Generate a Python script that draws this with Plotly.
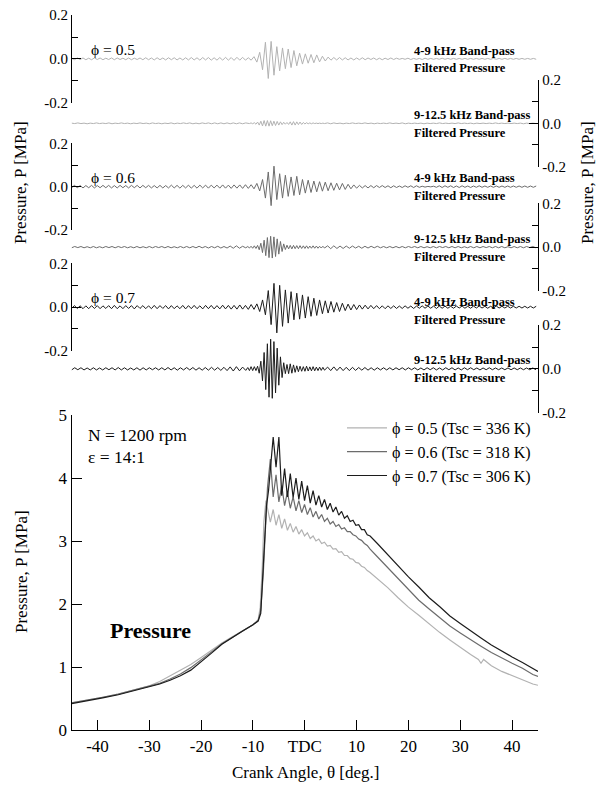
import numpy as np
import plotly.graph_objects as go

W, H = 606, 785
def fx(x): return x / W
def fy(y): return 1 - y / H

FONT = "Liberation Serif"
C05, C06, C07 = "#b2b2b2", "#6c6c6c", "#1c1c1c"
PHI = "\u03d5"

# ---------------- main pressure traces [MPa] vs crank angle [deg] ----------------
pre_deg = [-45, -42, -39, -36, -33, -30, -28, -26, -24, -22, -20, -18, -16, -14, -12, -10, -9]
p05_pre = [0.43, 0.47, 0.52, 0.57, 0.63, 0.70, 0.77, 0.86, 0.95, 1.04, 1.15, 1.27, 1.38, 1.48, 1.57, 1.67, 1.75]
p06_pre = [0.43, 0.47, 0.52, 0.57, 0.63, 0.69, 0.74, 0.81, 0.89, 0.99, 1.11, 1.24, 1.37, 1.47, 1.57, 1.67, 1.74]
p07_pre = [0.42, 0.46, 0.51, 0.56, 0.62, 0.68, 0.73, 0.79, 0.86, 0.95, 1.08, 1.22, 1.36, 1.47, 1.57, 1.67, 1.73]

rise05_deg = [-8.6, -8.2, -7.9, -7.5]
rise05 = [1.95, 2.6, 3.3, 3.64]
rise06_deg = [-8.5, -8.0, -7.6, -7.2]
rise06 = [1.9, 2.5, 3.3, 3.85]
rise07_deg = [-8.5, -8.2, -7.8, -7.4, -7.0]
rise07 = [1.85, 2.37, 3.1, 3.55, 3.8]

# combustion-oscillation region, sampled every 0.55 deg from -6.65 deg
p05_osc = [3.3, 3.5, 3.25, 3.42, 3.2, 3.35, 3.17, 3.28, 3.14, 3.23,
           3.11, 3.18, 3.08, 3.13, 3.04, 3.08, 3.0, 3.03, 2.96, 2.98,
           2.92, 2.93, 2.87, 2.88, 2.82, 2.83, 2.77, 2.77, 2.72, 2.71,
           2.66, 2.65, 2.6, 2.58, 2.53, 2.5]
p06_osc = [4.3, 3.7, 4.05, 3.62, 3.88, 3.56, 3.78, 3.52, 3.7, 3.48,
           3.64, 3.45, 3.58, 3.42, 3.53, 3.38, 3.47, 3.35, 3.42, 3.31,
           3.36, 3.27, 3.31, 3.23, 3.26, 3.19, 3.21, 3.15, 3.15, 3.1,
           3.08, 3.03, 3.01, 2.96, 2.93, 2.87]
p07_osc = [4.1, 4.65, 4.17, 4.65, 3.72, 4.15, 3.7, 4.07, 3.69, 4.0,
           3.66, 3.95, 3.64, 3.88, 3.6, 3.8, 3.57, 3.72, 3.54, 3.66,
           3.5, 3.6, 3.46, 3.54, 3.41, 3.47, 3.36, 3.4, 3.31, 3.33,
           3.25, 3.26, 3.18, 3.18, 3.1, 3.08]
osc_deg = np.round(-6.65 + 0.55 * np.arange(len(p07_osc)), 3)

post_deg = [14, 16, 18, 20, 22, 24, 26, 28, 30, 32, 34, 36, 38, 40, 42, 44, 45]
p06_post = [2.75, 2.58, 2.4, 2.23, 2.06, 1.92, 1.78, 1.65, 1.54, 1.43, 1.33, 1.23, 1.14, 1.06, 0.98, 0.88, 0.85]
p07_post = [2.96, 2.78, 2.6, 2.43, 2.27, 2.1, 1.96, 1.81, 1.69, 1.57, 1.46, 1.35, 1.25, 1.16, 1.07, 0.97, 0.93]
post05_deg = [14, 16, 18, 20, 22, 24, 26, 28, 30, 32, 33.5, 34, 34.5, 36, 38, 40, 42, 44, 45]
p05_post = [2.4, 2.26, 2.1, 1.95, 1.82, 1.68, 1.55, 1.43, 1.31, 1.2, 1.12, 1.06, 1.12, 1.02, 0.93, 0.86, 0.79, 0.73, 0.71]

legend_names = [PHI + " = 0.5 (Tsc = 336 K)", PHI + " = 0.6 (Tsc = 318 K)", PHI + " = 0.7 (Tsc = 306 K)"]

# ---------------- 4-9 kHz band-pass filtered pressure [MPa], every 0.55 deg from -45 ----------------
f49_05 = [0.003, -0.004, 0.004, -0.003, 0.004, -0.004, 0.003, -0.004, 0.004, -0.003,
          0.004, -0.004, 0.003, -0.003, 0.004, -0.004, 0.004, -0.003, 0.003, -0.004,
          0.004, -0.004, 0.003, -0.003, 0.004, -0.004, 0.005, -0.004, 0.004, -0.005,
          0.005, -0.004, 0.004, -0.005, 0.005, -0.004, 0.005, -0.005, 0.004, -0.005,
          0.005, -0.005, 0.006, -0.005, 0.005, -0.006, 0.006, -0.005, 0.006, -0.006,
          0.005, -0.006, 0.006, -0.006, 0.007, -0.006, 0.006, -0.007, 0.007, -0.006,
          0.007, -0.006, 0.005,
          -0.006, 0.01, -0.015, 0.03, -0.05, 0.076, -0.09, 0.08, -0.075, 0.056,
          -0.055, 0.05, -0.045, 0.045, -0.04, 0.038, -0.032, 0.026, -0.024, 0.023,
          -0.02, 0.02, -0.018, 0.018, -0.014, 0.012, -0.01, 0.008,
          -0.006, 0.006, -0.005, 0.006, -0.005, 0.005, -0.005, 0.004, -0.005, 0.004,
          -0.004, 0.005, -0.004, 0.004, -0.003, 0.004, -0.004, 0.003, -0.004, 0.003,
          -0.003, 0.004, -0.003, 0.003, -0.002, 0.002, -0.002, 0.003, -0.003, 0.002,
          -0.002, 0.002, -0.003, 0.003, -0.002, 0.002, -0.002, 0.002, -0.002, 0.003,
          -0.002, 0.002, -0.002, 0.002, -0.002, 0.002, -0.002, 0.002, -0.002, 0.002,
          -0.002, 0.002, -0.002, 0.002, -0.002, 0.002, -0.002, 0.002, -0.002, 0.002,
          -0.002, 0.002, -0.002, 0.002, -0.002, 0.002, -0.002, 0.002, -0.002, 0.002,
          -0.002, 0.002, -0.002]
f49_06 = [-0.005, 0.006, -0.005, 0.005, -0.006, 0.005, -0.005, 0.006, -0.006, 0.005,
          -0.005, 0.006, -0.005, 0.006, -0.006, 0.005, -0.006, 0.006, -0.005, 0.005,
          -0.006, 0.006, -0.005, 0.006, -0.006, 0.006, -0.005, 0.006, -0.006, 0.005,
          -0.006, 0.006, -0.006, 0.005, -0.006, 0.007, -0.006, 0.006, -0.007, 0.006,
          -0.006, 0.007, -0.007, 0.006, -0.007, 0.007, -0.006, 0.007, -0.007, 0.007,
          -0.006, 0.007, -0.007, 0.008, -0.007, 0.007, -0.008, 0.008, -0.007, 0.008,
          -0.008, 0.009, -0.008, 0.009,
          -0.01, 0.015, -0.02, 0.033, -0.053, 0.068, -0.088, 0.095, -0.06, 0.06,
          -0.053, 0.053, -0.045, 0.045, -0.041, 0.048, -0.038, 0.033, -0.03, 0.03,
          -0.027, 0.026, -0.024, 0.023, -0.021, 0.021, -0.019, 0.018, -0.017, 0.016,
          -0.015, 0.015, -0.013, 0.011, -0.01, 0.008, -0.007,
          0.006, -0.006, 0.005, -0.006, 0.005, -0.005, 0.005, -0.004, 0.005, -0.004,
          0.004, -0.005, 0.004, -0.004, 0.003, -0.004, 0.004, -0.003, 0.004, -0.004,
          0.004, -0.003, 0.002, -0.002, 0.001, -0.001, 0.002, -0.003, 0.004, -0.004,
          0.004, -0.003, 0.004, -0.004, 0.003, -0.004, 0.004, -0.003, 0.003, -0.004,
          0.003, -0.003, 0.004, -0.003, 0.003, -0.003, 0.003, -0.003, 0.003, -0.003,
          0.003, -0.003, 0.003, -0.003, 0.003, -0.003, 0.003, -0.003, 0.003, -0.003,
          0.003, -0.003, 0.003]
f49_07 = [-0.006, 0.007, -0.006, 0.006, -0.007, 0.006, -0.007, 0.007, -0.006, 0.007,
          -0.007, 0.006, -0.006, 0.007, -0.007, 0.008, -0.007, 0.006, -0.007, 0.007,
          -0.006, 0.007, -0.008, 0.007, -0.006, 0.007, -0.007, 0.006, -0.007, 0.008,
          -0.007, 0.007, -0.006, 0.007, -0.008, 0.007, -0.007, 0.006, -0.007, 0.008,
          -0.008, 0.007, -0.007, 0.008, -0.007, 0.006, -0.008, 0.008, -0.007, 0.008,
          -0.008, 0.007, -0.008, 0.009, -0.008, 0.008, -0.009, 0.008, -0.009, 0.01,
          -0.009, 0.008, -0.01,
          0.012, -0.01, 0.015, -0.02, 0.033, -0.035, 0.076, -0.08, 0.109, -0.118,
          0.1, -0.088, 0.079, -0.073, 0.071, -0.058, 0.064, -0.055, 0.056, -0.05,
          0.048, -0.042, 0.041, -0.038, 0.033, -0.03, 0.029, -0.027, 0.026, -0.023,
          0.021, -0.02, 0.018, -0.016, 0.014, -0.013, 0.012, -0.011, 0.01, -0.009,
          0.009, -0.008, 0.008, -0.007,
          0.007, -0.007, 0.006, -0.007, 0.006, -0.006, 0.006, -0.006, 0.005, -0.006,
          0.006, -0.005, 0.005, -0.006, 0.005, -0.005, 0.006, -0.005, 0.005, -0.005,
          0.005, -0.006, 0.005, -0.005, 0.005, -0.005, 0.004, -0.005, 0.005, -0.004,
          0.005, -0.005, 0.004, -0.005, 0.005, -0.004, 0.005, -0.004, 0.004, -0.005,
          0.004, -0.004, 0.005, -0.004, 0.004, -0.004, 0.004, -0.004, 0.004, -0.004,
          0.004, -0.004, 0.004, -0.004, 0.004, -0.004, 0.004]

# ---------------- 9-12.5 kHz band-pass filtered pressure [MPa] ----------------
# quiet part every 0.6 deg from -45, burst every 0.315 deg from -11, quiet part every 0.6 deg from 4.4
f912_05 = [0.001, -0.001, 0.002, -0.001, 0.001, -0.002, 0.001, -0.001, 0.002, -0.001,
           0.001, -0.001, 0.002, -0.002, 0.001, -0.001, 0.002, -0.001, 0.001, -0.002,
           0.001, -0.001, 0.002, -0.001, 0.001, -0.002, 0.002, -0.001, 0.001, -0.002,
           0.001, -0.001, 0.002, -0.002, 0.001, -0.001, 0.002, -0.001, 0.002, -0.002,
           0.001, -0.002, 0.002, -0.001, 0.002, -0.002, 0.002, -0.002, 0.002, -0.002,
           0.002, -0.002, 0.002, -0.002, 0.002, -0.002, 0.002,
           0.001, -0.001, 0.002, -0.002, 0.003, -0.004, 0.006, -0.008, 0.01, -0.012,
           0.013, -0.013, 0.013, -0.013, 0.012, -0.011, 0.01, -0.01, 0.009, -0.008,
           0.007, -0.006, 0.005, -0.004, 0.004, -0.005, 0.007, -0.008, 0.008, -0.008,
           0.007, -0.006, 0.006, -0.005, 0.004, -0.003, 0.003, -0.002, 0.002, -0.002,
           0.002, -0.001, 0.001, -0.001, 0.001, -0.001, 0.001, -0.001,
           0.002, -0.002, 0.002, -0.001, 0.001, -0.002, 0.001, -0.001, 0.002, -0.001,
           0.001, -0.001, 0.002, -0.001, 0.001, -0.002, 0.001, -0.001, 0.001, -0.001,
           0.002, -0.001, 0.001, -0.001, 0.002, -0.002, 0.001, -0.001, 0.001, -0.001,
           0.001, -0.002, 0.001, -0.001, 0.001, -0.001, 0.002, -0.001, 0.001, -0.001,
           0.001, -0.001, 0.002, -0.001, 0.001, -0.001, 0.001, -0.002, 0.001, -0.001,
           0.001, -0.001, 0.001, -0.001, 0.002, -0.001, 0.001, -0.001, 0.001, -0.001,
           0.001, -0.001, 0.001, -0.002, 0.001, -0.001, 0.001, -0.001]
f912_06 = [-0.003, 0.003, -0.002, 0.003, -0.003, 0.002, -0.003, 0.003, -0.003, 0.002,
           -0.003, 0.003, -0.002, 0.003, -0.003, 0.003, -0.002, 0.003, -0.003, 0.002,
           -0.003, 0.003, -0.003, 0.002, -0.003, 0.003, -0.003, 0.003, -0.002, 0.003,
           -0.003, 0.003, -0.003, 0.002, -0.003, 0.003, -0.003, 0.003, -0.003, 0.003,
           -0.003, 0.004, -0.003, 0.003, -0.004, 0.003, -0.003, 0.004, -0.004, 0.003,
           -0.004, 0.005, -0.005, 0.006, -0.005, 0.004, -0.003,
           0.003, -0.004, 0.004, -0.005, 0.006, -0.006, 0.008, -0.012, 0.018, -0.025,
           0.032, -0.039, 0.044, -0.048, 0.05, -0.05, 0.047, -0.043, 0.038, -0.032,
           0.026, -0.02, 0.015, -0.011, 0.009, -0.008, 0.008, -0.008, 0.008, -0.007,
           0.007, -0.007, 0.007, -0.006, 0.006, -0.006, 0.006, -0.006, 0.005, -0.005,
           0.006, -0.005, 0.005, -0.005, 0.004, -0.004, 0.004, -0.004,
           0.006, -0.007, 0.006, -0.006, 0.005, -0.006, 0.005, -0.005, 0.005, -0.004,
           0.004, -0.005, 0.004, -0.004, 0.004, -0.003, 0.004, -0.003, 0.003, -0.003,
           0.003, -0.003, 0.003, -0.003, 0.003, -0.003, 0.003, -0.002, 0.003, -0.003,
           0.003, -0.003, 0.002, -0.003, 0.003, -0.003, 0.003, -0.002, 0.003, -0.003,
           0.003, -0.003, 0.003, -0.003, 0.002, -0.003, 0.003, -0.003, 0.003, -0.003,
           0.003, -0.002, 0.003, -0.003, 0.003, -0.003, 0.003, -0.003, 0.002, -0.003,
           0.003, -0.003, 0.003, -0.003, 0.003, -0.002, 0.003, -0.003]
f912_07 = [-0.005, 0.005, -0.004, 0.005, -0.005, 0.004, -0.005, 0.005, -0.005, 0.004,
           -0.005, 0.005, -0.004, 0.005, -0.005, 0.006, -0.005, 0.005, -0.005, 0.004,
           -0.005, 0.005, -0.006, 0.005, -0.005, 0.005, -0.004, 0.005, -0.005, 0.005,
           -0.005, 0.006, -0.005, 0.005, -0.006, 0.005, -0.005, 0.006, -0.005, 0.006,
           -0.006, 0.005, -0.006, 0.006, -0.006, 0.007, -0.006, 0.006, -0.007, 0.007,
           -0.008, 0.009, -0.01, 0.01, -0.009, 0.008, -0.007,
           0.006, -0.008, 0.01, -0.008, 0.01, -0.008, 0.012, -0.02, 0.035, -0.055,
           0.075, -0.095, 0.115, -0.13, 0.136, -0.135, 0.125, -0.11, 0.095, -0.075,
           0.055, -0.04, 0.028, -0.022, 0.02, -0.022, 0.023, -0.02, 0.018, -0.016,
           0.014, -0.013, 0.012, -0.011, 0.01, -0.011, 0.012, -0.01, 0.009, -0.009,
           0.01, -0.009, 0.008, -0.008, 0.008, -0.007, 0.007, -0.006,
           0.008, -0.008, 0.009, -0.008, 0.008, -0.008, 0.007, -0.008, 0.007, -0.007,
           0.006, -0.006, 0.006, -0.006, 0.005, -0.006, 0.005, -0.005, 0.005, -0.005,
           0.005, -0.005, 0.005, -0.004, 0.005, -0.005, 0.005, -0.004, 0.005, -0.005,
           0.004, -0.005, 0.005, -0.004, 0.005, -0.005, 0.004, -0.005, 0.005, -0.004,
           0.005, -0.005, 0.004, -0.005, 0.005, -0.004, 0.005, -0.004, 0.004, -0.005,
           0.004, -0.004, 0.005, -0.004, 0.004, -0.004, 0.004, -0.004, 0.004, -0.004,
           0.004, -0.004, 0.004, -0.004, 0.004, -0.004, 0.004, -0.004]

band_top = ["4-9 kHz Band-pass", "9-12.5 kHz Band-pass"]
band_bottom = "Filtered Pressure"
phi_labels = [PHI + " = 0.5", PHI + " = 0.6", PHI + " = 0.7"]
x_tickvals = [-40, -30, -20, -10, 0, 10, 20, 30, 40]
x_ticktext = ["-40", "-30", "-20", "-10", "TDC", "10", "20", "30", "40"]
x_minor = [-44, -42, -38, -36, -34, -32, -28, -26, -24, -22, -18, -16, -14, -12, -8, -6, -4, -2,
           2, 4, 6, 8, 12, 14, 16, 18, 22, 24, 26, 28, 32, 34, 36, 38, 42, 44]
y_tickvals = [0, 1, 2, 3, 4, 5]
y_minor = [0.5, 1.5, 2.5, 3.5, 4.5]
small_ticks = [-0.2, 0.0, 0.2]
small_ticktext = ["-0.2", "0.0", "0.2"]

# ---------------- angle grids ----------------
g49 = np.round(-45 + 0.55 * np.arange(len(f49_05)), 3)
g49_06 = np.round(-45 + 0.55 * np.arange(len(f49_06)), 3)
g49_07 = np.round(-45 + 0.55 * np.arange(len(f49_07)), 3)
g912 = np.round(np.concatenate([-45 + 0.6 * np.arange(57), -11 + 0.315 * np.arange(48),
                                4.4 + 0.6 * np.arange(68)]), 3)

fig = go.Figure()

filt = [
    (g49, f49_05, C05, "y2"), (g912, f912_05, C05, "y3"),
    (g49_06, f49_06, C06, "y4"), (g912, f912_06, C06, "y5"),
    (g49_07, f49_07, C07, "y6"), (g912, f912_07, C07, "y7"),
]
for xs, ys, c, ya in filt:
    fig.add_trace(go.Scatter(x=xs, y=ys, mode="lines", showlegend=False,
                             line=dict(color=c, width=1), xaxis="x2", yaxis=ya))

series = [
    (pre_deg + rise05_deg + list(osc_deg) + post05_deg, p05_pre + rise05 + p05_osc + p05_post, C05),
    (pre_deg + rise06_deg + list(osc_deg) + post_deg, p06_pre + rise06 + p06_osc + p06_post, C06),
    (pre_deg + rise07_deg + list(osc_deg) + post_deg, p07_pre + rise07 + p07_osc + p07_post, C07),
]
for (xs, ys, c), name in zip(series, legend_names):
    fig.add_trace(go.Scatter(x=xs, y=ys, mode="lines", name=name,
                             line=dict(color=c, width=1.2), xaxis="x", yaxis="y"))

XL, XR = 71.6, 538.0
XD = [fx(XL), fx(XR)]
LW = 1.4
common = dict(showline=True, linecolor="black", linewidth=LW, showgrid=False,
              zeroline=False, automargin=False, ticks="inside", tickcolor="black")
bare = dict(showgrid=False, zeroline=False, automargin=False, showticklabels=False)

layout = dict(
    template="none", width=W, height=H,
    margin=dict(l=0, r=0, t=0, b=0),
    paper_bgcolor="white", plot_bgcolor="rgba(0,0,0,0)",
    font=dict(family=FONT, color="black"),
    xaxis=dict(domain=XD, range=[-45, 45], anchor="y",
               tickvals=x_tickvals, ticktext=x_ticktext, ticklen=10, tickwidth=1.2,
               tickfont=dict(family=FONT, size=17), **common),
    yaxis=dict(domain=[fy(730), fy(415)], range=[0, 5], anchor="x",
               tickvals=y_tickvals, ticklen=10, tickwidth=1.2,
               tickfont=dict(family=FONT, size=17), **common),
    xaxis3=dict(overlaying="x", anchor="y", side="top", range=[-45, 45],
                showline=True, linecolor="black", linewidth=LW, ticks="", **bare),
    yaxis8=dict(overlaying="y", anchor="x", side="right", range=[0, 5],
                showline=True, linecolor="black", linewidth=LW, ticks="", **bare),
    xaxis4=dict(overlaying="x", anchor="y", side="bottom", range=[-45, 45], showline=False,
                tickvals=x_minor, ticks="inside", ticklen=5, tickwidth=1, tickcolor="black", **bare),
    yaxis9=dict(overlaying="y", anchor="x", side="left", range=[0, 5], showline=False,
                tickvals=y_minor, ticks="inside", ticklen=5, tickwidth=1, tickcolor="black", **bare),
    xaxis2=dict(domain=XD, range=[-45, 45], anchor="y2", visible=False),
    legend=dict(x=fx(536), xanchor="right", y=fy(411), yanchor="top",
                font=dict(family=FONT, size=16), bgcolor="rgba(0,0,0,0)",
                itemwidth=40, tracegroupgap=0),
)

panels = [("y2", 15, 102.7, "left"), ("y3", 80, 166.7, "right"),
          ("y4", 143.3, 230, "left"), ("y5", 203.3, 291, "right"),
          ("y6", 263.3, 351, "left"), ("y7", 325, 412.7, "right")]
for name, top, bot, side in panels:
    ax = dict(domain=[fy(bot), fy(top)], range=[-0.201, 0.201], side=side,
              tickvals=small_ticks, ticktext=small_ticktext, ticklen=9, tickwidth=1.2,
              minor=dict(tickvals=[-0.1, 0.1], ticklen=6, ticks="inside", tickwidth=1, tickcolor="black"),
              tickfont=dict(family=FONT, size=15), **common)
    if side == "left":
        ax.update(anchor="free", position=fx(XL) - 0.0006)
    else:
        ax.update(anchor="x2")
    layout["yaxis" + name[1:]] = ax

fig.update_layout(**layout)

ann = []
def add_text(text, x, y, size, xanchor="left", angle=0, bold=False):
    ann.append(dict(text=("<b>%s</b>" % text) if bold else text, x=fx(x), y=fy(y),
                    xref="paper", yref="paper", xanchor=xanchor, yanchor="middle",
                    textangle=angle, showarrow=False,
                    font=dict(family=FONT, size=size, color="black")))

add_text("Pressure, P [MPa]", 21, 183, 17, xanchor="center", angle=-90)
add_text("Pressure, P [MPa]", 588, 183, 17, xanchor="center", angle=-90)
add_text("Pressure, P [MPa]", 21, 572, 17, xanchor="center", angle=-90)
add_text("Crank Angle, \u03b8 [deg.]", 305, 772, 17, xanchor="center")

for lab, yy in zip(phi_labels, [50, 178, 297]):
    add_text(lab, 89, yy, 15.5)

band_rows = [(51, 68, 0), (115, 133, 1), (178, 196, 0), (239, 257, 1), (302, 320, 0), (360, 378, 1)]
for y1, y2, b in band_rows:
    add_text(band_top[b], 412, y1, 12.5, bold=True)
    add_text(band_bottom, 412, y2, 12.5, bold=True)

add_text("N = 1200 rpm", 86, 435, 17.5)
add_text("\u03b5 = 14:1", 86, 457, 17.5)
add_text("Pressure", 108, 630, 22, bold=True)

fig.update_layout(annotations=ann)
fig.write_html("out.html")
